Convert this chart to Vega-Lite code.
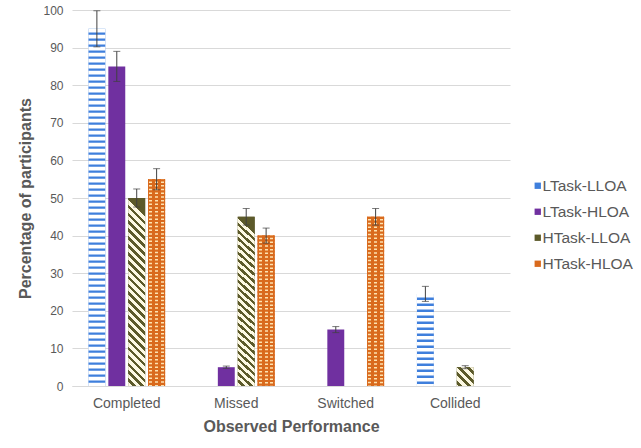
{
  "$schema": "https://vega.github.io/schema/vega-lite/v6.json",
  "width": 438,
  "height": 376,
  "autosize": {"type": "none"},
  "padding": {"left": 72, "top": 10, "right": 131, "bottom": 62},
  "background": "white",
  "config": {
    "view": {"stroke": "transparent"},
    "font": "Liberation Sans"
  },
  "data": {
    "values": [
      {"category": "Completed", "series": "LTask-LLOA", "value": 95, "err": 4.8},
      {"category": "Completed", "series": "LTask-HLOA", "value": 85, "err": 4},
      {"category": "Completed", "series": "HTask-LLOA", "value": 50, "err": 2.4},
      {"category": "Completed", "series": "HTask-HLOA", "value": 55, "err": 2.8},
      {"category": "Missed", "series": "LTask-LLOA", "value": 0, "err": 0},
      {"category": "Missed", "series": "LTask-HLOA", "value": 5, "err": 0.3},
      {"category": "Missed", "series": "HTask-LLOA", "value": 45, "err": 2.2},
      {"category": "Missed", "series": "HTask-HLOA", "value": 40, "err": 2},
      {"category": "Switched", "series": "LTask-LLOA", "value": 0, "err": 0},
      {"category": "Switched", "series": "LTask-HLOA", "value": 15, "err": 0.8},
      {"category": "Switched", "series": "HTask-LLOA", "value": 0, "err": 0},
      {"category": "Switched", "series": "HTask-HLOA", "value": 45, "err": 2.2},
      {"category": "Collided", "series": "LTask-LLOA", "value": 24.5, "err": 2},
      {"category": "Collided", "series": "LTask-HLOA", "value": 0, "err": 0},
      {"category": "Collided", "series": "HTask-LLOA", "value": 5, "err": 0.4},
      {"category": "Collided", "series": "HTask-HLOA", "value": 0, "err": 0}
    ]
  },
  "encoding": {
    "x": {
      "field": "category",
      "type": "nominal",
      "sort": ["Completed", "Missed", "Switched", "Collided"],
      "scale": {"paddingInner": 0.3, "paddingOuter": 0.15},
      "axis": {
        "title": "Observed Performance",
        "titleFontSize": 16,
        "titleFontWeight": "bold",
        "titleColor": "#595959",
        "titlePadding": 8,
        "labelAngle": 0,
        "labelFontSize": 14,
        "labelColor": "#595959",
        "labelPadding": 10,
        "ticks": false,
        "domainColor": "#d9d9d9",
        "grid": false
      }
    },
    "xOffset": {
      "field": "series",
      "type": "nominal",
      "sort": ["LTask-LLOA", "LTask-HLOA", "HTask-LLOA", "HTask-HLOA"],
      "scale": {"paddingInner": 0.15, "paddingOuter": 0}
    },
    "y": {
      "field": "value",
      "type": "quantitative",
      "scale": {"domain": [0, 100], "nice": false},
      "axis": {
        "title": "Percentage of participants",
        "titleFontSize": 16,
        "titleFontWeight": "bold",
        "titleColor": "#595959",
        "titlePadding": 9,
        "values": [0, 10, 20, 30, 40, 50, 60, 70, 80, 90, 100],
        "labelFontSize": 12,
        "labelColor": "#595959",
        "labelPadding": 9,
        "ticks": false,
        "domain": false,
        "gridColor": "#d9d9d9"
      }
    }
  },
  "layer": [
    {
      "mark": {"type": "bar"},
      "encoding": {
        "color": {
          "field": "series",
          "type": "nominal",
          "sort": ["LTask-LLOA", "LTask-HLOA", "HTask-LLOA", "HTask-HLOA"],
          "scale": {
            "domain": ["LTask-LLOA", "LTask-HLOA", "HTask-LLOA", "HTask-HLOA"],
            "range": ["#3f7fdc", "#7030a0", "#5c5a2a", "#d96a1d"]
          },
          "legend": {
            "title": null,
            "orient": "none",
            "legendX": 458,
            "legendY": 168,
            "symbolType": "square",
            "symbolSize": 40,
            "symbolStrokeWidth": 0,
            "labelFontSize": 15.5,
            "labelColor": "#595959",
            "labelOffset": -3,
            "rowPadding": 9
          }
        }
      }
    },
    {
      "transform": [{"filter": "datum.series === 'HTask-LLOA' && datum.value > 0"}],
      "mark": {"type": "bar"},
      "encoding": {
        "fill": {
          "condition": {
            "test": "datum.value > 10",
            "value": {
              "gradient": "linear", "x1": 0.09, "y1": 0, "x2": 0, "y2": 1,
              "stops": [
                {"offset": 0, "color": "#5c5a2a"}, {"offset": 0.019, "color": "#5c5a2a"}, {"offset": 0.019, "color": "#fdf9e3"}, {"offset": 0.0417, "color": "#fdf9e3"},
                {"offset": 0.0417, "color": "#5c5a2a"}, {"offset": 0.0607, "color": "#5c5a2a"}, {"offset": 0.0607, "color": "#fdf9e3"}, {"offset": 0.0833, "color": "#fdf9e3"},
                {"offset": 0.0833, "color": "#5c5a2a"}, {"offset": 0.1023, "color": "#5c5a2a"}, {"offset": 0.1023, "color": "#fdf9e3"}, {"offset": 0.125, "color": "#fdf9e3"},
                {"offset": 0.125, "color": "#5c5a2a"}, {"offset": 0.144, "color": "#5c5a2a"}, {"offset": 0.144, "color": "#fdf9e3"}, {"offset": 0.1667, "color": "#fdf9e3"},
                {"offset": 0.1667, "color": "#5c5a2a"}, {"offset": 0.1857, "color": "#5c5a2a"}, {"offset": 0.1857, "color": "#fdf9e3"}, {"offset": 0.2083, "color": "#fdf9e3"},
                {"offset": 0.2083, "color": "#5c5a2a"}, {"offset": 0.2273, "color": "#5c5a2a"}, {"offset": 0.2273, "color": "#fdf9e3"}, {"offset": 0.25, "color": "#fdf9e3"},
                {"offset": 0.25, "color": "#5c5a2a"}, {"offset": 0.269, "color": "#5c5a2a"}, {"offset": 0.269, "color": "#fdf9e3"}, {"offset": 0.2917, "color": "#fdf9e3"},
                {"offset": 0.2917, "color": "#5c5a2a"}, {"offset": 0.3107, "color": "#5c5a2a"}, {"offset": 0.3107, "color": "#fdf9e3"}, {"offset": 0.3333, "color": "#fdf9e3"},
                {"offset": 0.3333, "color": "#5c5a2a"}, {"offset": 0.3523, "color": "#5c5a2a"}, {"offset": 0.3523, "color": "#fdf9e3"}, {"offset": 0.375, "color": "#fdf9e3"},
                {"offset": 0.375, "color": "#5c5a2a"}, {"offset": 0.394, "color": "#5c5a2a"}, {"offset": 0.394, "color": "#fdf9e3"}, {"offset": 0.4167, "color": "#fdf9e3"},
                {"offset": 0.4167, "color": "#5c5a2a"}, {"offset": 0.4357, "color": "#5c5a2a"}, {"offset": 0.4357, "color": "#fdf9e3"}, {"offset": 0.4583, "color": "#fdf9e3"},
                {"offset": 0.4583, "color": "#5c5a2a"}, {"offset": 0.4773, "color": "#5c5a2a"}, {"offset": 0.4773, "color": "#fdf9e3"}, {"offset": 0.5, "color": "#fdf9e3"},
                {"offset": 0.5, "color": "#5c5a2a"}, {"offset": 0.519, "color": "#5c5a2a"}, {"offset": 0.519, "color": "#fdf9e3"}, {"offset": 0.5417, "color": "#fdf9e3"},
                {"offset": 0.5417, "color": "#5c5a2a"}, {"offset": 0.5607, "color": "#5c5a2a"}, {"offset": 0.5607, "color": "#fdf9e3"}, {"offset": 0.5833, "color": "#fdf9e3"},
                {"offset": 0.5833, "color": "#5c5a2a"}, {"offset": 0.6023, "color": "#5c5a2a"}, {"offset": 0.6023, "color": "#fdf9e3"}, {"offset": 0.625, "color": "#fdf9e3"},
                {"offset": 0.625, "color": "#5c5a2a"}, {"offset": 0.644, "color": "#5c5a2a"}, {"offset": 0.644, "color": "#fdf9e3"}, {"offset": 0.6667, "color": "#fdf9e3"},
                {"offset": 0.6667, "color": "#5c5a2a"}, {"offset": 0.6857, "color": "#5c5a2a"}, {"offset": 0.6857, "color": "#fdf9e3"}, {"offset": 0.7083, "color": "#fdf9e3"},
                {"offset": 0.7083, "color": "#5c5a2a"}, {"offset": 0.7273, "color": "#5c5a2a"}, {"offset": 0.7273, "color": "#fdf9e3"}, {"offset": 0.75, "color": "#fdf9e3"},
                {"offset": 0.75, "color": "#5c5a2a"}, {"offset": 0.769, "color": "#5c5a2a"}, {"offset": 0.769, "color": "#fdf9e3"}, {"offset": 0.7917, "color": "#fdf9e3"},
                {"offset": 0.7917, "color": "#5c5a2a"}, {"offset": 0.8107, "color": "#5c5a2a"}, {"offset": 0.8107, "color": "#fdf9e3"}, {"offset": 0.8333, "color": "#fdf9e3"},
                {"offset": 0.8333, "color": "#5c5a2a"}, {"offset": 0.8523, "color": "#5c5a2a"}, {"offset": 0.8523, "color": "#fdf9e3"}, {"offset": 0.875, "color": "#fdf9e3"},
                {"offset": 0.875, "color": "#5c5a2a"}, {"offset": 0.894, "color": "#5c5a2a"}, {"offset": 0.894, "color": "#fdf9e3"}, {"offset": 0.9167, "color": "#fdf9e3"},
                {"offset": 0.9167, "color": "#5c5a2a"}, {"offset": 0.9357, "color": "#5c5a2a"}, {"offset": 0.9357, "color": "#fdf9e3"}, {"offset": 0.9583, "color": "#fdf9e3"},
                {"offset": 0.9583, "color": "#5c5a2a"}, {"offset": 0.9773, "color": "#5c5a2a"}, {"offset": 0.9773, "color": "#fdf9e3"}, {"offset": 1, "color": "#fdf9e3"}
              ]
            }
          },
          "value": {
            "gradient": "linear", "x1": 0.9, "y1": 0, "x2": 0, "y2": 1,
            "stops": [
              {"offset": 0, "color": "#fdf9e3"}, {"offset": 0.08, "color": "#fdf9e3"}, {"offset": 0.08, "color": "#5c5a2a"}, {"offset": 0.19, "color": "#5c5a2a"},
              {"offset": 0.19, "color": "#fdf9e3"}, {"offset": 0.33, "color": "#fdf9e3"}, {"offset": 0.33, "color": "#5c5a2a"}, {"offset": 0.44, "color": "#5c5a2a"},
              {"offset": 0.44, "color": "#fdf9e3"}, {"offset": 0.58, "color": "#fdf9e3"}, {"offset": 0.58, "color": "#5c5a2a"}, {"offset": 0.69, "color": "#5c5a2a"},
              {"offset": 0.69, "color": "#fdf9e3"}, {"offset": 0.83, "color": "#fdf9e3"}, {"offset": 0.83, "color": "#5c5a2a"}, {"offset": 0.94, "color": "#5c5a2a"},
              {"offset": 0.94, "color": "#fdf9e3"}, {"offset": 1, "color": "#fdf9e3"}
            ]
          }
        }
      }
    },
    {
      "transform": [{"filter": "datum.series === 'HTask-HLOA' && datum.value > 0"}],
      "mark": {
        "type": "bar",
        "fill": {
          "gradient": "linear", "x1": 0, "y1": 0, "x2": 1, "y2": 0,
          "stops": [
            {"offset": 0, "color": "#d96a1d"}, {"offset": 0.07, "color": "#d96a1d"}, {"offset": 0.07, "color": "#fde2b0"}, {"offset": 0.25, "color": "#fde2b0"},
            {"offset": 0.25, "color": "#d96a1d"}, {"offset": 0.41, "color": "#d96a1d"}, {"offset": 0.41, "color": "#fde2b0"}, {"offset": 0.59, "color": "#fde2b0"},
            {"offset": 0.59, "color": "#d96a1d"}, {"offset": 0.75, "color": "#d96a1d"}, {"offset": 0.75, "color": "#fde2b0"}, {"offset": 0.93, "color": "#fde2b0"},
            {"offset": 0.93, "color": "#d96a1d"}, {"offset": 1, "color": "#d96a1d"}
          ]
        }
      }
    },
    {
      "transform": [{"filter": "datum.series === 'HTask-HLOA' && datum.value > 0"}],
      "mark": {"type": "rule", "color": "#d96a1d", "strokeWidth": 17, "strokeCap": "butt", "strokeDash": [2.2, 1.5]},
      "encoding": {"y2": {"datum": 0}}
    },
    {
      "transform": [{"filter": "datum.series === 'LTask-LLOA' && datum.value > 0"}],
      "mark": {"type": "rule", "color": "white", "strokeWidth": 17, "strokeCap": "butt", "strokeDash": [3.6, 2.4]},
      "encoding": {"y2": {"datum": 0}}
    },
    {
      "transform": [{"filter": "datum.err > 0"}],
      "mark": {
        "type": "errorbar",
        "color": "#404040",
        "thickness": 1,
        "ticks": {"size": 7, "thickness": 1, "color": "#404040"}
      },
      "encoding": {
        "yError": {"field": "err"}
      }
    }
  ]
}
